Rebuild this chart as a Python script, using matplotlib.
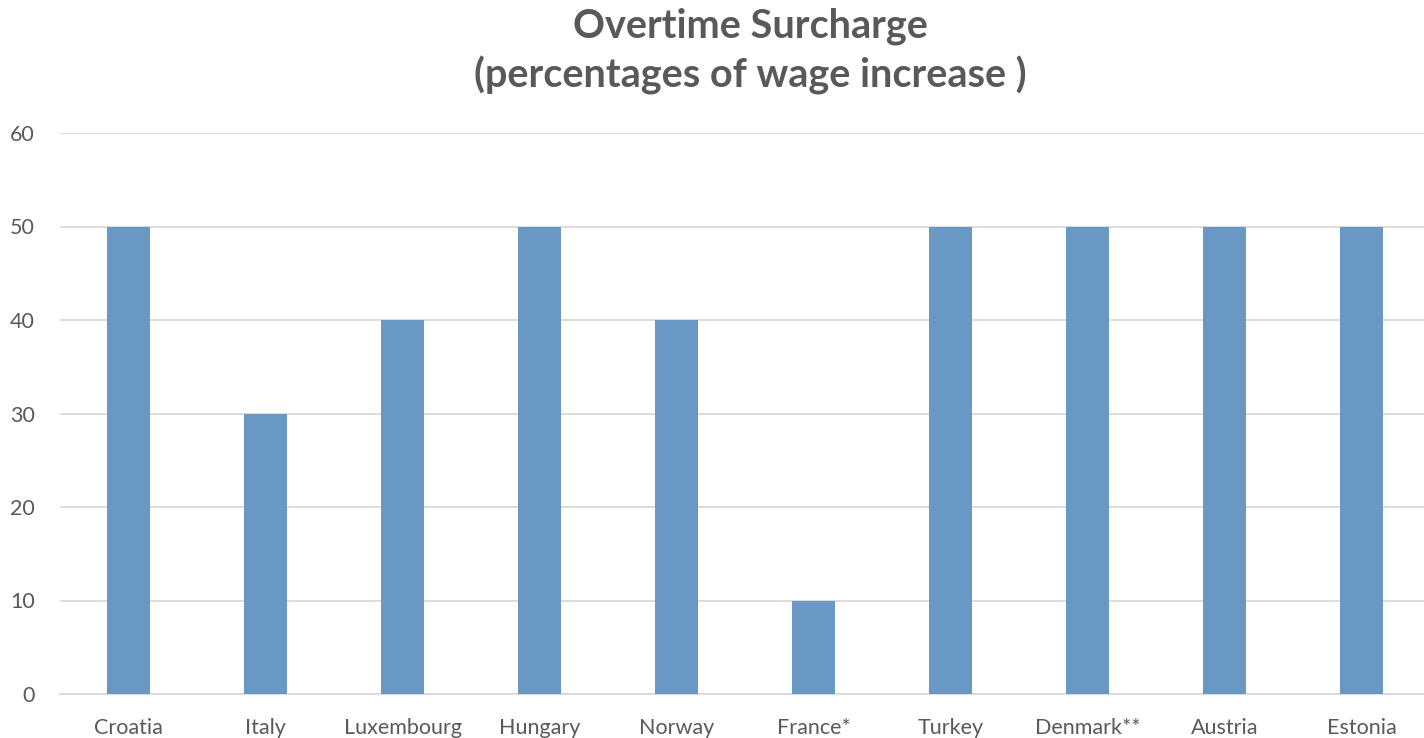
import matplotlib
matplotlib.use("Agg")
import matplotlib.pyplot as plt

countries = ["Croatia", "Italy", "Luxembourg", "Hungary", "Norway",
             "France*", "Turkey", "Denmark**", "Austria", "Estonia"]
surcharge = [50, 30, 40, 50, 40, 10, 50, 50, 50, 50]
y_ticks = [0, 10, 20, 30, 40, 50, 60]

plt.rcParams["font.family"] = ["Lato", "DejaVu Sans"]

fig = plt.figure(figsize=(14.24, 7.38), dpi=100)
ax = fig.add_axes([60 / 1424, 1 - 694 / 738, 1370 / 1424, (694 - 133) / 738])

x = range(len(countries))
ax.bar(x, surcharge, width=0.31, color="#6A98C4", zorder=3)

ax.set_xlim(-0.5, len(countries) - 0.5)
ax.set_ylim(0, 60)
ax.set_yticks(y_ticks)
ax.set_xticks(list(x))
ax.set_xticklabels(countries)
ax.grid(axis="y", color="#D9D9D9", linewidth=1.3, zorder=0)
for side in ["top", "right", "left"]:
    ax.spines[side].set_visible(False)
ax.spines["bottom"].set_color("#D9D9D9")
ax.spines["bottom"].set_linewidth(1.3)
ax.tick_params(axis="both", length=0, labelsize=15.5, colors="#595959")
ax.tick_params(axis="x", pad=17)
ax.tick_params(axis="y", pad=18)

fig.text(750 / 1424, 1 - 51 / 738, "Overtime Surcharge\n(percentages of wage increase )",
         ha="center", va="center", fontsize=28.5, fontweight="bold",
         color="#595959", linespacing=1.33)

fig.savefig("out.png", dpi=100)
